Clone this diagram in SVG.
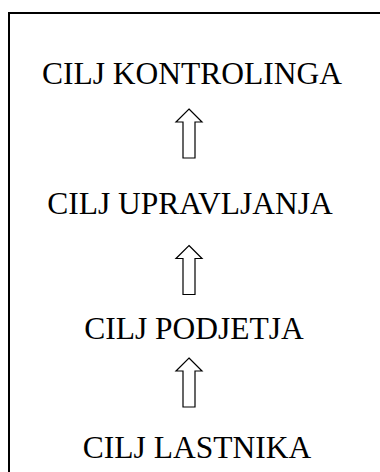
<svg xmlns="http://www.w3.org/2000/svg" width="380" height="472" viewBox="0 0 380 472">
  <defs>
    <style>
      .lbl { font-family: "Liberation Serif", "Times New Roman", serif; font-size: 31.5px; fill: #000; text-anchor: middle; }
      .frame { fill: none; stroke: #000; stroke-width: 2; }
      .up { fill: #fff; stroke: #000; stroke-width: 1.2; stroke-linejoin: miter; }
    </style>
    <!-- hollow block arrow pointing up, tip at (0,0) -->
    <path id="uparrow" d="M0,0 L13,13 L6,13 L6,49 L-6,49 L-6,13 L-13,13 Z"/>
  </defs>
  <rect width="380" height="472" fill="#fff"/>
  <!-- frame continues past the right and bottom edges -->
  <path class="frame" d="M9,472 L9,13 L380,13"/>

  <g id="cilj-kontrolinga">
    <text class="lbl" x="192" y="83.5">CILJ KONTROLINGA</text>
  </g>
  <g id="cilj-upravljanja">
    <text class="lbl" x="190" y="214">CILJ UPRAVLJANJA</text>
  </g>
  <g id="cilj-podjetja">
    <text class="lbl" x="194" y="339">CILJ PODJETJA</text>
  </g>
  <g id="cilj-lastnika">
    <text class="lbl" x="197" y="458">CILJ LASTNIKA</text>
  </g>

  <g id="connectors">
    <use href="#uparrow" class="up" x="189" y="109"/>
    <use href="#uparrow" class="up" x="189" y="245.5"/>
    <use href="#uparrow" class="up" x="189" y="358"/>
  </g>
</svg>
